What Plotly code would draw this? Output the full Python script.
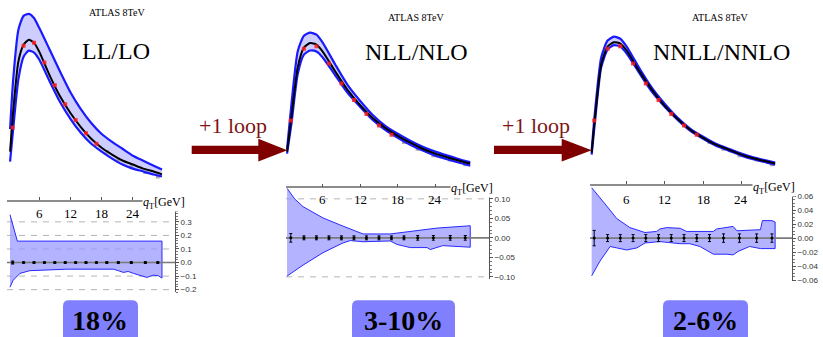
import plotly.graph_objects as go

W, H = 823, 337

# ---------------- data: top panels (dsigma/dqT, arbitrary units) ----------------
qt_ll = [0.4, 1, 2, 3, 4, 5, 6, 8, 10, 12, 14, 16, 18, 20, 22, 24, 26, 28, 29.6]
ll_central = [21.8, 42.9, 68.7, 77.4, 80.0, 78.5, 73.8, 61.5, 50.6, 41.9, 34.6, 28.5, 23.8, 20.3, 17.2, 15.1, 13.0, 11.5, 10.0]
ll_upper = [33.6, 59.4, 85.2, 92.4, 93.4, 91.3, 86.2, 74.9, 63.5, 52.7, 43.9, 36.7, 31.0, 26.9, 23.3, 19.7, 17.1, 14.5, 12.5]
ll_lower = [16.6, 33.6, 59.4, 71.2, 74.3, 73.3, 69.7, 58.4, 47.6, 38.9, 31.6, 25.9, 21.8, 18.2, 15.1, 13.0, 11.5, 9.9, 8.9]

qt_nll = [0.3, 1, 2, 3, 4, 5, 6, 8, 10, 12, 14, 16, 18, 20, 22, 24, 26, 28, 29.6]
nll_central = [15.9, 36.5, 65.9, 77.6, 80.3, 79.4, 75.3, 63.5, 52.4, 43.5, 35.9, 30.0, 25.3, 21.2, 17.6, 14.7, 12.4, 10.3, 8.8]
nll_upper = [17.6, 44.1, 75.3, 84.7, 86.5, 85.3, 80.6, 67.6, 55.3, 45.9, 37.6, 31.2, 26.5, 22.4, 18.8, 15.9, 13.5, 11.2, 9.7]
nll_lower = [14.7, 32.4, 61.8, 73.5, 75.9, 75.3, 71.8, 61.2, 50.6, 42.4, 34.7, 28.8, 24.1, 20.0, 16.5, 13.5, 11.2, 9.1, 7.6]

qt_nnll = [0.5, 1, 2, 3, 4, 5, 6, 8, 10, 12, 14, 16, 18, 20, 22, 24, 26, 28, 29.3]
nnll_central = [15.3, 35.3, 67.6, 78.2, 80.8, 80.0, 75.9, 63.5, 52.4, 42.9, 35.3, 28.8, 24.1, 20.0, 17.1, 14.1, 11.8, 10.0, 8.8]
nnll_upper = [16.5, 38.8, 71.8, 81.8, 84.1, 82.9, 78.2, 65.3, 53.5, 44.1, 35.9, 29.4, 24.7, 20.6, 17.6, 14.7, 12.4, 10.6, 9.4]
nnll_lower = [14.1, 32.9, 65.9, 76.5, 79.1, 78.2, 74.1, 62.4, 51.2, 42.4, 34.7, 28.2, 23.5, 19.4, 16.5, 13.5, 11.2, 9.4, 8.2]

# ATLAS 8 TeV data points
data_qt = [0.9, 3, 5, 7, 9, 11, 13, 15, 17, 19, 21.2, 23.7, 26.4, 28.8]
data_val = [34.3, 76.9, 78.4, 68.2, 56.3, 46.5, 38.2, 31.4, 25.9, 21.6, 17.6, 13.7, 11.2, 8.4]
data_relerr = [0.011, 0.005, 0.005, 0.005, 0.005, 0.005, 0.005, 0.005, 0.005, 0.005, 0.006, 0.006, 0.006, 0.006]
fit_qt_max = 18

# ---------------- data: ratio bands ----------------
ll_rup_qt = [0.38, 1.8, 29.6]
ll_rup = [0.353, 0.158, 0.158]
ll_rlo_qt = [0.38, 1.0, 2.3, 4.2, 6.8, 11.3, 20.3, 21.2, 22.2, 23.1, 24.1, 25.4, 26.7, 27.9, 28.9, 29.6]
ll_rlo = [-0.182, -0.13, -0.08, -0.06, -0.053, -0.049, -0.049, -0.06, -0.073, -0.066, -0.08, -0.097, -0.11, -0.093, -0.097, -0.115]

nll_rup_qt = [0.3, 1.5, 2.85, 6.05, 9.25, 12.45, 16.8, 20.0, 24.3, 29.6]
nll_rup = [0.127, 0.1, 0.08, 0.051, 0.03, 0.01, 0.01, 0.017, 0.025, 0.031]
nll_rlo_qt = [0.3, 2.85, 6.05, 9.25, 10.4, 12.45, 16.8, 17.9, 20.0, 22.7, 23.2, 25.2, 29.6]
nll_rlo = [-0.098, -0.07, -0.038, -0.013, -0.007, -0.01, -0.008, -0.017, -0.025, -0.025, -0.03, -0.02, -0.024]

nnll_rup_qt = [0.5, 1.8, 2.86, 4.43, 6.5, 8.87, 10.7, 11.2, 12.3, 14.4, 15.4, 19.6, 20.1, 22.7, 23.3, 27.0, 27.3, 28.8, 29.3]
nnll_rup = [0.072, 0.058, 0.046, 0.028, 0.015, 0.008, 0.0095, 0.013, 0.015, 0.014, 0.0095, 0.0095, 0.013, 0.0167, 0.0105, 0.012, 0.025, 0.025, 0.023]
nnll_rlo_qt = [0.5, 1.8, 3.4, 4.43, 6.0, 7.6, 8.87, 11.2, 14.4, 15.9, 17.5, 19.6, 21.7, 22.7, 23.5, 25.3, 27.0, 29.3]
nnll_rlo = [-0.054, -0.033, -0.012, -0.014, -0.017, -0.014, -0.007, -0.005, -0.008, -0.008, -0.012, -0.023, -0.023, -0.024, -0.019, -0.012, -0.015, -0.015]

titles = ["LL/LO", "NLL/NLO", "NNLL/NNLO"]
badges = ["18%", "3-10%", "2-6%"]
step_label = "+1 loop"
xtick_vals = [6, 12, 18, 24]

SERIF = "Liberation Serif"
SANS = "Liberation Sans"
BLUE = "#1a1aff"


def fx(p):
    return p / W


def fy(p):
    return 1 - p / H


panels = [
    dict(qt=qt_ll, c=ll_central, u=ll_upper, l=ll_lower,
         rupq=ll_rup_qt, rup=ll_rup, rloq=ll_rlo_qt, rlo=ll_rlo,
         xpx=(7, 175), xr=(-0.19, 32.1), top_yr=(7.9, 95.5),
         rat_ypx=(295, 204), rat_yr=(-0.22, 0.445),
         ytv=[-0.2, -0.1, 0.0, 0.1, 0.2, 0.3], yfmt=".1f", minor=0.02,
         grid=[-0.2, -0.1, 0.1, 0.2, 0.3], lab_shift=-11),
    dict(qt=qt_nll, c=nll_central, u=nll_upper, l=nll_lower,
         rupq=nll_rup_qt, rup=nll_rup, rloq=nll_rlo_qt, rlo=nll_rlo,
         xpx=(286, 489), xr=(0.13, 32.6), top_yr=(0, 100),
         rat_ypx=(281.3, 190), rat_yr=(-0.105, 0.127),
         ytv=[-0.1, -0.05, 0.0, 0.05, 0.1], yfmt=".2f", minor=0.01,
         grid=[-0.1, 0.1], lab_shift=-11.5),
    dict(qt=qt_nnll, c=nnll_central, u=nnll_upper, l=nnll_lower,
         rupq=nnll_rup_qt, rup=nnll_rup, rloq=nnll_rlo_qt, rlo=nnll_rlo,
         xpx=(590, 792), xr=(0.24, 31.95), top_yr=(0, 100),
         rat_ypx=(284, 187.3), rat_yr=(-0.062, 0.075),
         ytv=[-0.06, -0.04, -0.02, 0.0, 0.02, 0.04, 0.06], yfmt=".2f", minor=0.005,
         grid=[], lab_shift=-14),
]

fig = go.Figure()
layout = dict(width=W, height=H, margin=dict(l=0, r=0, t=0, b=0),
              paper_bgcolor="white", plot_bgcolor="rgba(0,0,0,0)", showlegend=False)
shapes = []
annotations = []

red_qt = [q for q in data_qt if q <= fit_qt_max]
red_v = [v for q, v in zip(data_qt, data_val) if q <= fit_qt_max]
gray_qt = [q for q in data_qt if q > fit_qt_max]
gray_v = [v for q, v in zip(data_qt, data_val) if q > fit_qt_max]


def note(text, xc, yc, size, color="black", family=SERIF, **kw):
    annotations.append(dict(text=text, x=fx(xc), y=fy(yc), xref="paper", yref="paper",
                            xanchor="center", yanchor="middle", showarrow=False,
                            font=dict(family=family, size=size, color=color), **kw))


for i, p in enumerate(panels):
    kt = 2 * i + 1
    kr = 2 * i + 2
    xt, yt = f"x{kt}", f"y{kt}"
    xr_, yr_ = f"x{kr}", f"y{kr}"
    xdom = [fx(p["xpx"][0]), fx(p["xpx"][1])]

    # ---- top panel ----
    fig.add_trace(go.Scatter(x=p["qt"], y=p["u"], mode="lines", line=dict(width=0),
                             xaxis=xt, yaxis=yt, hoverinfo="skip"))
    fig.add_trace(go.Scatter(x=p["qt"], y=p["l"], mode="lines", line=dict(width=0),
                             fill="tonexty", fillcolor="rgba(200,200,255,0.9)",
                             xaxis=xt, yaxis=yt, hoverinfo="skip"))
    fig.add_trace(go.Scatter(x=gray_qt, y=gray_v, mode="markers",
                             marker=dict(symbol="square", size=4, color="#a8a8a8"),
                             xaxis=xt, yaxis=yt))
    for arr in (p["u"], p["l"]):
        fig.add_trace(go.Scatter(x=p["qt"], y=arr, mode="lines",
                                 line=dict(color=BLUE, width=2.2, shape="spline", smoothing=0.6),
                                 xaxis=xt, yaxis=yt))
    fig.add_trace(go.Scatter(x=p["qt"], y=p["c"], mode="lines",
                             line=dict(color="black", width=2, shape="spline", smoothing=0.6),
                             xaxis=xt, yaxis=yt))
    fig.add_trace(go.Scatter(x=red_qt, y=red_v, mode="markers",
                             marker=dict(symbol="square", size=4, color="rgba(255,30,30,0.85)"),
                             xaxis=xt, yaxis=yt))

    layout[f"xaxis{kt}"] = dict(domain=xdom, range=list(p["xr"]), visible=False, anchor=yt)
    layout[f"yaxis{kt}"] = dict(domain=[fy(180), fy(10)], range=list(p["top_yr"]),
                                visible=False, anchor=xt)

    # ---- ratio panel ----
    bx = p["rupq"] + p["rloq"][::-1]
    by = p["rup"] + p["rlo"][::-1]
    fig.add_trace(go.Scatter(x=bx, y=by, mode="lines", fill="toself",
                             fillcolor="rgba(150,150,255,0.72)",
                             line=dict(color="#2a2aff", width=1),
                             xaxis=xr_, yaxis=yr_, hoverinfo="skip"))
    fig.add_trace(go.Scatter(x=list(p["xr"]), y=[0, 0], mode="lines",
                             line=dict(color="#7a7a7a", width=1.6),
                             xaxis=xr_, yaxis=yr_, hoverinfo="skip"))
    fig.add_trace(go.Scatter(x=data_qt, y=[0.0 for _ in data_qt], mode="markers",
                             marker=dict(size=3, color="black"),
                             error_y=dict(type="data", array=data_relerr, color="black",
                                          thickness=1, width=1.5),
                             xaxis=xr_, yaxis=yr_))
    for g in p["grid"]:
        shapes.append(dict(type="line", xref=f"{xr_} domain", yref=yr_, x0=0, x1=1,
                           y0=g, y1=g, line=dict(color="#b5b5b5", width=1, dash="6px,6px"),
                           layer="below"))

    # x tick labels drawn just under the top axis line
    for tv in xtick_vals:
        annotations.append(dict(text=str(tv), x=tv, y=1, xref=xr_, yref=f"{yr_} domain",
                                xanchor="center", yanchor="middle", yshift=p["lab_shift"],
                                showarrow=False, font=dict(family=SERIF, size=13, color="black")))

    layout[f"xaxis{kr}"] = dict(domain=xdom, range=list(p["xr"]), anchor=yr_, side="top",
                                showline=True, linecolor="#8c8c8c", linewidth=1.5,
                                ticks="outside", ticklen=3, tickcolor="#555",
                                tickvals=xtick_vals, showticklabels=False,
                                showgrid=False, zeroline=False)
    layout[f"yaxis{kr}"] = dict(domain=[fy(p["rat_ypx"][0]), fy(p["rat_ypx"][1])],
                                range=list(p["rat_yr"]), anchor=xr_, side="right",
                                showline=True, linecolor="#555", linewidth=1,
                                ticks="outside", ticklen=3, tickcolor="#555",
                                tickvals=p["ytv"], tickformat=p["yfmt"],
                                minor=dict(ticks="outside", ticklen=2, dtick=p["minor"],
                                           tickcolor="#777"),
                                tickfont=dict(family=SANS, size=8, color="#333"),
                                showgrid=False, zeroline=False)

# q_T axis labels
for (xc, yc) in [(164, 205), (472, 191), (774, 189.5)]:
    note("<i>q</i><sub>T</sub>[GeV]", xc, yc, 12, bgcolor="white", borderpad=0)

# titles
for (xc, yc) in [(117, 13), (416, 18), (720, 17.5)]:
    note("ATLAS 8TeV", xc, yc, 10)
for t, (xc, yc) in zip(titles, [(116, 51), (417, 52), (721, 52)]):
    note(t, xc, yc, 24)

# +1 loop labels and arrows
for (xc, yc) in [(233, 127), (536, 127)]:
    note(step_label, xc, yc, 22, color="#7d1616")
for (x0, xb, xt_) in [(191.7, 258.3, 287.3), (494, 561.7, 591.7)]:
    shapes.append(dict(type="rect", xref="paper", yref="paper",
                       x0=fx(x0), x1=fx(xb + 1), y0=fy(155.5), y1=fy(147),
                       fillcolor="#800000", line=dict(width=0)))
    path = (f"M {fx(xb)},{fy(140)} L {fx(xt_)},{fy(151.7)} L {fx(xb)},{fy(163)} Z")
    shapes.append(dict(type="path", xref="paper", yref="paper", path=path,
                       fillcolor="#800000", line=dict(width=0)))


# badges
def rounded(x0, x1, y0, y1, r):
    X0, X1 = fx(x0), fx(x1)
    rx, ry = r / W, r / H
    T, B = fy(y0), fy(y1)
    return (f"M {X0},{B} L {X0},{T - ry} Q {X0},{T} {X0 + rx},{T} L {X1 - rx},{T} "
            f"Q {X1},{T} {X1},{T - ry} L {X1},{B} Z")


for b, (x0, x1, xc) in zip(badges, [(63, 138, 100), (352, 455, 403), (663, 748, 705)]):
    shapes.append(dict(type="path", xref="paper", yref="paper",
                       path=rounded(x0, x1, 303, 345, 6),
                       fillcolor="#8080ff", line=dict(width=0)))
    note(f"<b>{b}</b>", xc, 323.5, 28)

layout["shapes"] = shapes
layout["annotations"] = annotations
fig.update_layout(**layout)
fig.write_html("out.html", config={"displayModeBar": False},
               post_script="document.body.style.margin='0px';document.body.style.overflow='hidden';")
